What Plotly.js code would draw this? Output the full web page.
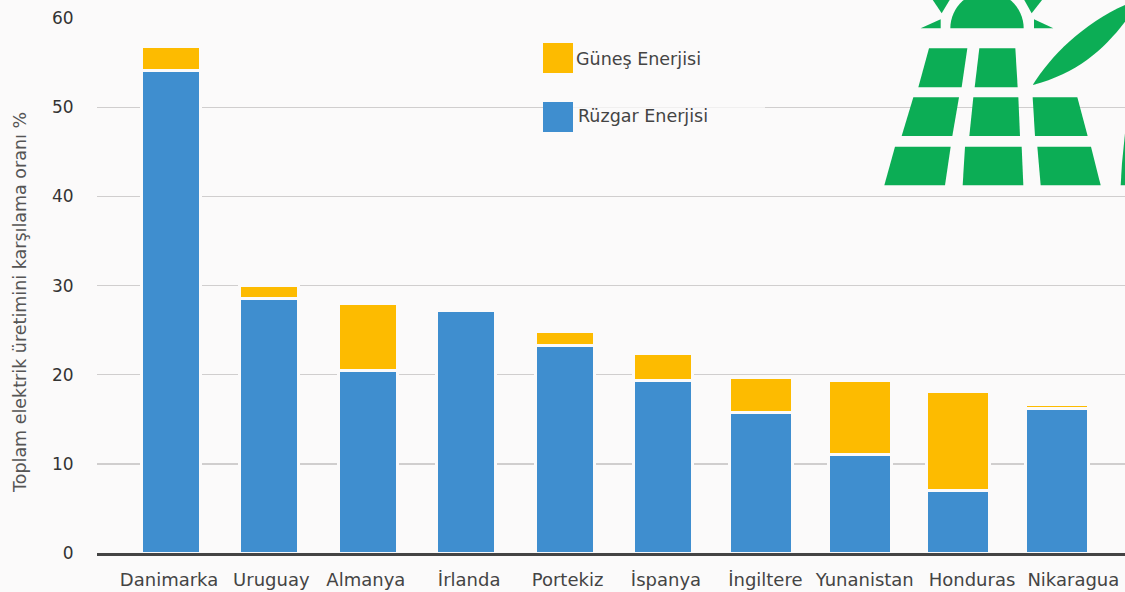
<!DOCTYPE html>
<html><head><meta charset="utf-8">
<script src="https://cdn.plot.ly/plotly-3.0.1.min.js"></script>
<style>html,body{margin:0;padding:0;background:#fbfafa;overflow:hidden}</style></head>
<body><div id="c" style="width:1125px;height:592px"></div>
<script>
const categories = ["Danimarka","Uruguay","Almanya","İrlanda","Portekiz","İspanya","İngiltere","Yunanistan","Honduras","Nikaragua"];
const ruzgar = [54.1,28.5,20.5,27.2,23.3,19.4,15.8,11.1,7.0,16.2];
const gunes = [2.7,1.5,7.5,0,1.6,3,3.9,8.2,11.1,0.5];
const barWidths = [0.6,0.6,0.6,0.6,0.6,0.6,0.64,0.64,0.64,0.64];
const labelShift = [-0.02,0.02,-0.02,0.03,0.03,0.03,0.04,0.05,0.14,0.17];
const yTicks = [0,10,20,30,40,50,60];

const W=1125,H=592,L=97,T=18,B=39,R=0;
const px=x=>((x-L)/(W-L-R)).toFixed(5), py=y=>((H-B-y)/(H-B-T)).toFixed(5);
const zx=x=>850+x/3, zy=y=>y/3;
const poly=pts=>'M'+pts.map(p=>px(zx(p[0]))+','+py(zy(p[1]))).join(' L')+' Z';
const green='#0cad55';
const logoPolys=[
 [[212,85],[272,58],[272,85]],[[552,58],[610,85],[552,85]],
 [[245,-5],[302,-5],[275,40]],[[520,-5],[580,-5],[545,40]],
 [[237,145],[352,145],[335,262],[205,262]],[[388,145],[496,145],[503,262],[374,262]],
 [[190,292],[327,292],[307,408],[155,408]],[[370,292],[505,292],[510,408],[358,408]],[[548,292],[682,292],[713,408],[555,408]],
 [[135,440],[302,440],[285,556],[103,556]],[[345,440],[515,440],[520,556],[338,556]],[[562,440],[723,440],[752,556],[572,556]],
 [[812,556],[825,556],[825,400],[816,490]]
];
const shapes=logoPolys.map(p=>({type:'path',xref:'paper',yref:'paper',path:poly(p),fillcolor:green,line:{width:0},layer:'above'}));
let sun=[];for(let a=180;a>=0;a-=6){const r=a*Math.PI/180;sun.push([411+110*Math.cos(r),85-110*Math.sin(r)]);}
shapes.push({type:'path',xref:'paper',yref:'paper',path:poly(sun),fillcolor:green,line:{width:0},layer:'above'});
const q=(x,y)=>px(zx(x))+','+py(zy(y));
shapes.push({type:'path',xref:'paper',yref:'paper',fillcolor:green,line:{width:0},layer:'above',
 path:`M${q(548,255)} C${q(600,170)} ${q(700,70)} ${q(825,15)} L${q(825,65)} C${q(760,150)} ${q(680,220)} ${q(548,255)} Z`});
const swatch=(x0,y0,x1,y1,c,op)=>({type:'rect',xref:'paper',yref:'paper',x0:px(x0),x1:px(x1),y0:py(y1),y1:py(y0),fillcolor:c,opacity:op||1,line:{width:0},layer:'above'});
shapes.push(swatch(573,104,765,110,'#fbfafa',0.75));
shapes.push(swatch(543,43,573,73,'#fdbb00'));
shapes.push(swatch(543,102,573,132,'#3f8ecf'));

const fontFam='"DejaVu Sans", sans-serif';
const annotations=[
 {text:'Güneş Enerjisi',x:px(574),y:py(59),xref:'paper',yref:'paper',xanchor:'left',yanchor:'middle',showarrow:false,font:{family:fontFam,size:17.5,color:'#444'}},
 {text:'Rüzgar Enerjisi',x:px(576),y:py(116),xref:'paper',yref:'paper',xanchor:'left',yanchor:'middle',showarrow:false,font:{family:fontFam,size:17.5,color:'#444'}},
 {text:'Toplam elektrik üretimini karşılama oranı %',x:px(20),y:py(303),xref:'paper',yref:'paper',xanchor:'center',yanchor:'middle',textangle:-90,showarrow:false,font:{family:fontFam,size:17.5,color:'#555'}}
];
const idx=categories.map((_,i)=>i);
const traces=[
 {type:'bar',name:'Rüzgar Enerjisi',x:idx,y:ruzgar,width:barWidths,marker:{color:'#3f8ecf',line:{color:'#fbfafa',width:3}},hovertext:categories},
 {type:'bar',name:'Güneş Enerjisi',x:idx,y:gunes,width:barWidths,marker:{color:'#fdbb00',line:{color:'#fbfafa',width:3}},hovertext:categories}
];
const layout={
 width:W,height:H,margin:{l:L,r:R,t:T,b:B,pad:0},barmode:'stack',showlegend:false,
 paper_bgcolor:'#fbfafa',plot_bgcolor:'#fbfafa',
 font:{family:fontFam,color:'#333'},
 xaxis:{type:'linear',range:[-0.752,9.695],tickmode:'array',tickvals:idx.map(i=>i+labelShift[i]),ticktext:categories,
  showgrid:false,zeroline:false,showline:true,linecolor:'#444',linewidth:3,ticks:'outside',ticklen:8,tickcolor:'rgba(0,0,0,0)',
  tickfont:{family:fontFam,size:18,color:'#444'}},
 yaxis:{range:[0,60.02],tickmode:'array',tickvals:yTicks,showgrid:true,gridcolor:'#d0cece',gridwidth:1.5,zeroline:false,
  ticks:'outside',ticklen:19,tickcolor:'rgba(0,0,0,0)',tickfont:{family:fontFam,size:17,color:'#333'}},
 shapes,annotations
};
Plotly.newPlot('c',traces,layout,{displayModeBar:false,staticPlot:true});
</script></body></html>
